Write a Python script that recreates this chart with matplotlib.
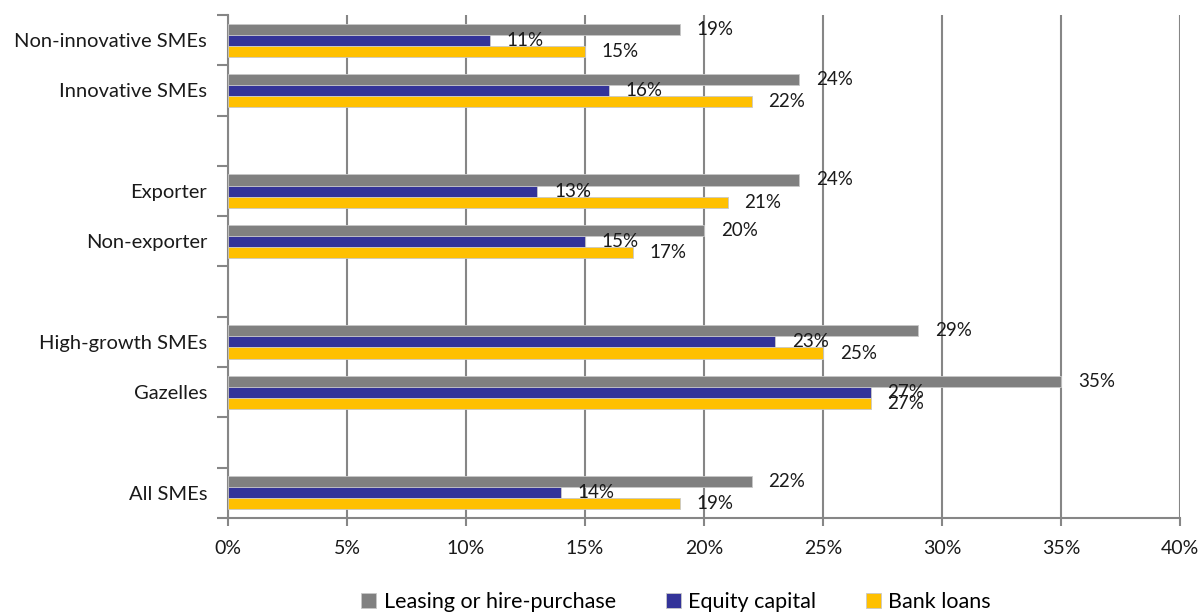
import matplotlib
matplotlib.use('Agg')
import matplotlib.pyplot as plt
import numpy as np

# categorias de cima para baixo ('' = linha vazia entre grupos)
categories = ['Non-innovative SMEs', 'Innovative SMEs', '',
              'Exporter', 'Non-exporter', '',
              'High-growth SMEs', 'Gazelles', '',
              'All SMEs']
leasing = [19, 24, None, 24, 20, None, 29, 35, None, 22]
equity = [11, 16, None, 13, 15, None, 23, 27, None, 14]
bank = [15, 22, None, 21, 17, None, 25, 27, None, 19]
series_names = ['Leasing or hire-purchase', 'Equity capital', 'Bank loans']
colors = ['#808080', '#333399', '#FFC000']
xticks = [0, 5, 10, 15, 20, 25, 30, 35, 40]

plt.rcParams['font.family'] = ['Lato', 'DejaVu Sans']

fig = plt.figure(figsize=(12.03, 6.12), dpi=100)
ax = fig.add_axes([0.1895, 0.1536, 0.7915, 0.8219])

h = 0.22
offs = [-h, 0, h]
for serie, off, col, name in zip([leasing, equity, bank], offs, colors, series_names):
    ys = [i + off for i, v in enumerate(serie) if v is not None]
    vs = [v for v in serie if v is not None]
    ax.barh(ys, vs, height=h, color=col, edgecolor='#c8c8c8', linewidth=0.6,
            label=name, zorder=3)
    for y, v in zip(ys, vs):
        ax.annotate('%d%%' % v, (v, y), xytext=(12, 0), textcoords='offset points',
                    ha='left', va='center', fontsize=13.5, color='#1a1a1a', zorder=4)

ax.set_xlim(0, 40)
ax.set_ylim(len(categories) - 0.5, -0.5)
ax.set_xticks(xticks)
ax.set_xticklabels(['%d%%' % t for t in xticks], fontsize=14, color='#1a1a1a')
ax.set_yticks(range(len(categories)))
ax.set_yticklabels(categories, fontsize=14.5, color='#1a1a1a')
ax.set_yticks(np.arange(-0.5, len(categories), 1), minor=True)
ax.tick_params(axis='y', which='major', length=0, pad=15)
ax.tick_params(axis='y', which='minor', length=8, width=1.5, color='#868686')
ax.tick_params(axis='x', which='major', length=6, width=1.5, color='#868686', pad=10)

ax.grid(axis='x', color='#868686', linewidth=1.5, zorder=0)
for s in ['top', 'right']:
    ax.spines[s].set_visible(False)
for s in ['left', 'bottom']:
    ax.spines[s].set_color('#868686')
    ax.spines[s].set_linewidth(1.5)

handles, labels = ax.get_legend_handles_labels()
fig.legend(handles, labels, loc='center', bbox_to_anchor=(0.562, 0.016), ncol=3,
           frameon=False, fontsize=15.5, handlelength=0.7, handleheight=0.7,
           columnspacing=2.3, handletextpad=0.35)

fig.savefig('out.png', dpi=100)
